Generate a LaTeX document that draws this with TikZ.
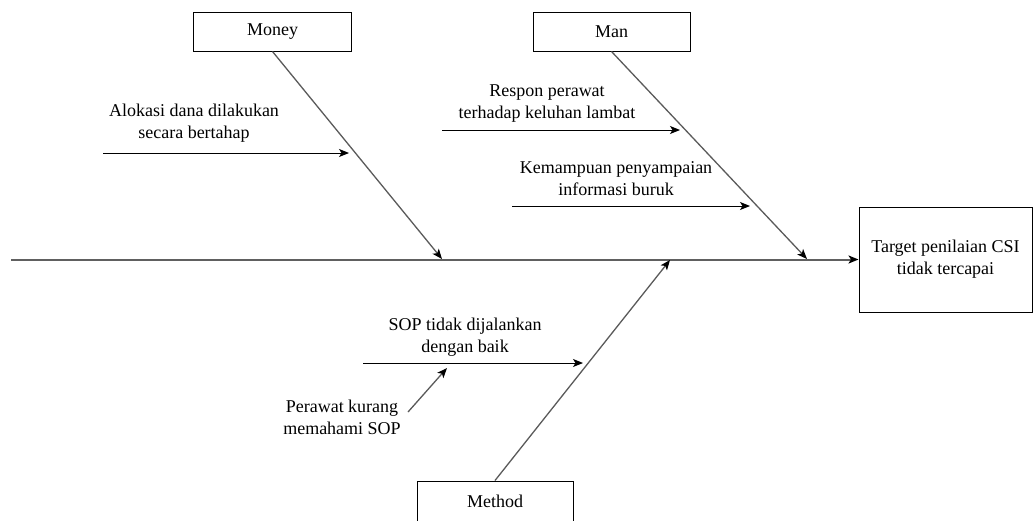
\documentclass[tikz,border=0pt]{standalone}
\usepackage{fontspec}
\setmainfont{Liberation Serif}
\usetikzlibrary{arrows.meta}
\definecolor{bone}{HTML}{5A5A5A}
\definecolor{spinec}{HTML}{606060}
\tikzset{
  lbl/.style={font=\fontsize{18}{22}\selectfont, align=center, inner sep=0pt},
  catbox/.style={draw=black, line width=1pt, minimum width=158pt, minimum height=39pt, inner sep=0pt, font=\fontsize{18}{22}\selectfont},
  tip/.style={-{Stealth[length=10pt,width=8pt,inset=2.5pt,color=black]}},
  branch/.style={tip, draw=bone, line width=1.3pt},
  sub/.style={tip, draw=black, line width=1pt},
}
\begin{document}
\begin{tikzpicture}[x=1pt,y=-1pt]
\useasboundingbox (0,0) rectangle (1033,520);
% category boxes
\node[catbox] (money) at (272.5,31.5) {Money};
\node[catbox, minimum width=157pt] (man) at (611.5,31.5) {Man};
\node[catbox, minimum width=156pt, minimum height=44pt, text depth=4pt] (method) at (495,503) {Method};
\node[draw=black, line width=1pt, minimum width=173pt, minimum height=105pt, inner sep=0pt, lbl] (target) at (945.5,259.5) {Target penilaian CSI\\tidak tercapai};
% spine
\coordinate (spineL) at (11,259.5);
\draw[tip, draw=spinec, line width=2pt] (spineL) -- (target.west);
% main bones
\coordinate (moneyTip) at (442,259);
\coordinate (manTip) at (807,259);
\coordinate (methodTip) at (670,260);
\draw[branch] (money.south) -- (moneyTip);
\draw[branch] (man.south) -- (manTip);
\draw[branch] (method.north) -- (methodTip);
% sub causes
\node[lbl] (alokasi) at (194,123.5) {Alokasi dana dilakukan\\secara bertahap};
\coordinate (aS) at (103,153);
\coordinate (aE) at (349,153);
\draw[sub] (aS) -- (aE);

\node[lbl] (respon) at (547,103.5) {Respon perawat\\terhadap keluhan lambat};
\coordinate (rS) at (442,130);
\coordinate (rE) at (680,130);
\draw[sub] (rS) -- (rE);

\node[lbl] (kemampuan) at (616,179) {Kemampuan penyampaian\\informasi buruk};
\coordinate (kS) at (512,206);
\coordinate (kE) at (750,206);
\draw[sub] (kS) -- (kE);

\node[lbl] (sop) at (465,337) {SOP tidak dijalankan\\dengan baik};
\coordinate (sS) at (363,363);
\coordinate (sE) at (583,363);
\draw[sub] (sS) -- (sE);

\node[lbl] (perawat) at (342,417) {Perawat kurang\\memahami SOP};
\coordinate (pS) at (408,412);
\coordinate (pE) at (447,368);
\draw[branch] (pS) -- (pE);
\end{tikzpicture}
\end{document}
